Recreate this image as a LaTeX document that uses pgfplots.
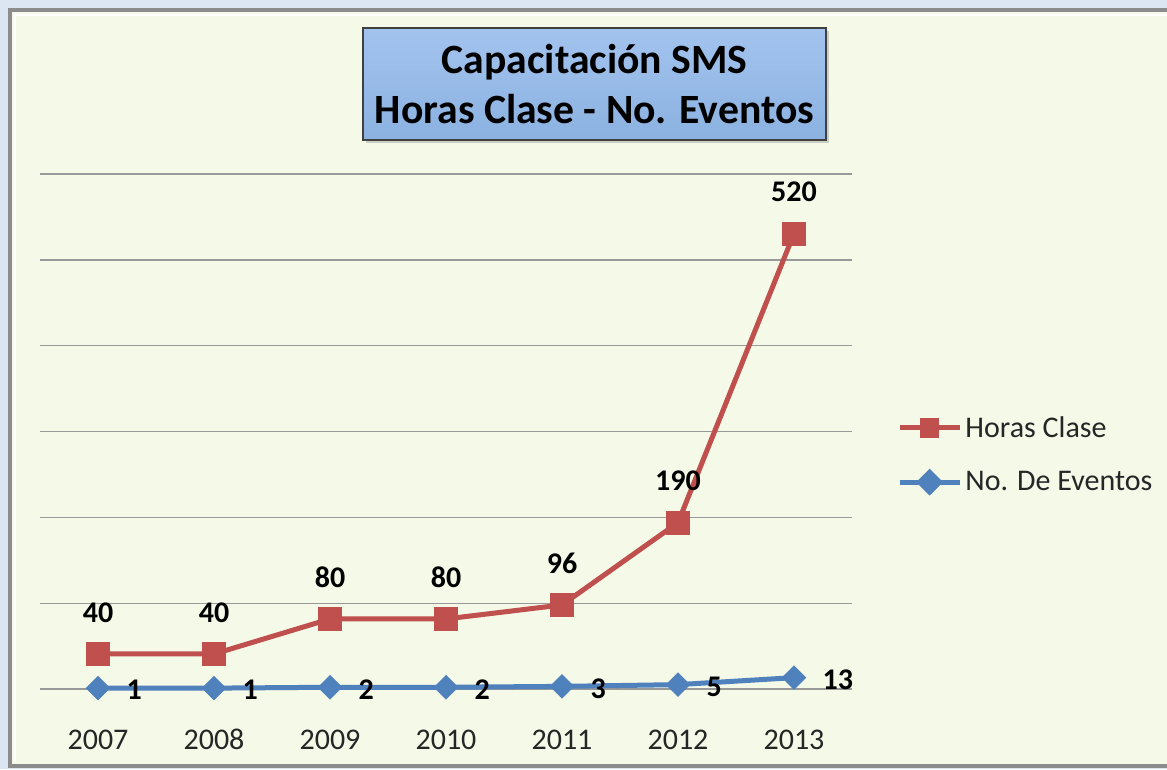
\documentclass[border=0pt]{standalone}
\usepackage{fontspec}
\setmainfont{Carlito}
\usepackage{pgfplots}
\pgfplotsset{compat=1.18}
\usetikzlibrary{shadows}
\definecolor{bgout}{HTML}{DCE6F2}
\definecolor{bgin}{HTML}{F4F9E8}
\definecolor{framegray}{HTML}{8C8C8C}
\definecolor{hred}{HTML}{C0504D}
\definecolor{eblue}{HTML}{4F81BD}
\definecolor{ttop}{HTML}{A3C3EE}
\definecolor{tbot}{HTML}{8BB2E1}

\begin{document}
\begin{tikzpicture}
\useasboundingbox (0,0) rectangle (700.2pt,461.4pt);
% background and frame (1px = 0.6pt)
\begin{scope}[x=0.6pt,y=0.6pt]
\fill[bgout] (0,0) rectangle (1167,769);
\draw[framegray, line width=2.4pt, fill=bgin] (10,3) rectangle (1190,759);
\draw[white, line width=1pt] (15,8) -- (15,754) -- (1190,754);
\end{scope}

\begin{axis}[
  at={(24pt,48pt)}, anchor=south west,
  width=487.2pt, height=309pt, scale only axis,
  xmin=2006.5, xmax=2013.5, ymin=0, ymax=588,
  xtick={2007,2008,2009,2010,2011,2012,2013},
  ytick={0,98,196,294,392,490,588},
  yticklabels={},
  axis line style={draw=none}, tick style={draw=none},
  ymajorgrids, major grid style={color=gray!80, line width=0.8pt},
  /pgf/number format/assume math mode=true,
  /pgf/number format/1000 sep={},
  typeset ticklabels with strut,
  xticklabel style={font=\fontsize{18}{20}\selectfont, text=black!85, yshift=-19pt},
  clip=false,
  legend style={draw=none, fill=none, at={(1.049,0.455)}, anchor=west,
    font=\fontsize{18}{20}\selectfont, row sep=15pt, text=black!85},
  legend cell align=left,
  legend image code/.code={\draw[mark repeat=2,mark phase=2,#1,mark size=5.5pt]
    plot coordinates {(0pt,0pt) (18pt,0pt) (36pt,0pt)};},
]
\addplot[hred, line width=3pt, mark=square*,
  mark options={solid, fill=hred, draw=hred, line width=0.4pt}, mark size=7pt,
  nodes near coords,
  every node near coord/.append style={font=\bfseries\fontsize{18}{20}\selectfont,
    text=black, anchor=center, yshift=25pt}]
  coordinates {(2007,40) (2008,40) (2009,80) (2010,80) (2011,96) (2012,190) (2013,520)};
\addlegendentry{Horas Clase}
\addplot[eblue, line width=3pt, mark=square*,
  mark options={solid, fill=eblue, draw=eblue, line width=0.4pt, rotate=45}, mark size=5pt,
  nodes near coords,
  every node near coord/.append style={font=\bfseries\fontsize{18}{20}\selectfont,
    text=black, anchor=west, inner sep=0pt, xshift=17pt, yshift=-1.2pt, rotate=0}]
  coordinates {(2007,1) (2008,1) (2009,2) (2010,2) (2011,3) (2012,5) (2013,13)};
\addlegendentry{No. De Eventos}
\end{axis}

\node[draw=black!75, line width=1.5pt, top color=ttop, bottom color=tbot,
  minimum width=277.8pt, minimum height=67.2pt, align=center,
  font=\bfseries\fontsize{25}{30}\selectfont,
  drop shadow={shadow xshift=2pt, shadow yshift=-2pt, opacity=0.35}]
  at (356.7pt,411pt) {Capacitación SMS\\Horas Clase - No. Eventos};
\end{tikzpicture}
\end{document}
